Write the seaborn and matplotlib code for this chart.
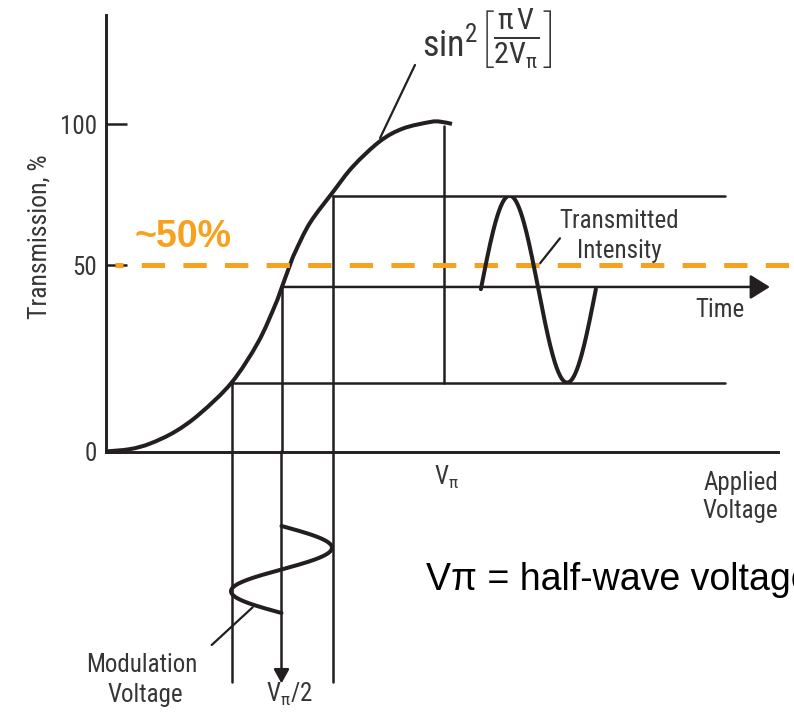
import numpy as np
import matplotlib
matplotlib.use("Agg")
import matplotlib.pyplot as plt
from matplotlib.path import Path
from matplotlib.patches import PathPatch
from matplotlib.transforms import IdentityTransform
import seaborn as sns

# ---------------------------------------------------------------- data
# Modulator transfer curve: applied voltage (in units of V_pi) vs transmission (%)
voltage = [0.0, 0.0723, 0.1313, 0.2051, 0.2789, 0.3725, 0.4501, 0.5003, 0.5198,
           0.5434, 0.5593, 0.6036, 0.6715, 0.7305, 0.8102, 0.8781, 0.9578,
           0.9873, 1.0227]
transmission = [0.0, 0.64, 2.12, 5.32, 10.18, 18.54, 29.29, 39.23, 43.93,
                 49.84, 54.57, 65.06, 76.0, 85.05, 93.98, 98.48, 100.78,
                 100.92, 100.11]

# Drive swing around the V_pi/2 bias point and the transmission it produces
swing_voltage = [0.3725, 0.5195, 0.6706]      # low, bias, high
swing_transmission = [18.5, 44.2, 74.7]       # low, bias, high
v_pi = 1.0
transmission_at_v_pi = 99.2

# Transmission axis
y_ticks = [0, 50, 100]
y_tick_labels = ["0", "50", "100"]
guide_level = 50                               # dashed "~50%" guide

# Output intensity wave: start on the time axis and period (voltage-axis units)
intensity_start = 1.108
intensity_period = 0.3394
# Modulation voltage wave: one period, time runs downward
modulation_cycles = [0.0, 1.0]

# ---------------------------------------------------------------- style
sns.set_theme(style="white")
FAMILY = ["Roboto Condensed", "Liberation Sans", "DejaVu Sans"]
plt.rcParams["font.family"] = FAMILY
plt.rcParams["mathtext.fontset"] = "custom"
plt.rcParams["mathtext.rm"] = "Roboto Condensed"
plt.rcParams["mathtext.it"] = "Roboto Condensed"
plt.rcParams["mathtext.bf"] = "Roboto Condensed:bold"
plt.rcParams["mathtext.sf"] = "Roboto Condensed"
INK = "#231f20"
TXT = "#363636"
ORANGE = "#f7a11f"
THIN = 1.8
THICK = 2.9
LABEL = 18

W, H = 794, 714
fig = plt.figure(figsize=(W / 100, H / 100), dpi=100)
fig.patch.set_facecolor("white")


def fx(x):
    return x / W


def fy(y):
    return 1 - y / H


# main transfer-curve axes
ax = fig.add_axes([fx(105.5), fy(451.5), fx(778 - 105.5), (451.5 - 15) / H])
ax.patch.set_alpha(0)

LO, HI = 3.722, 2.822   # the drawn transmission axis is stretched below 50 %


def fwd(t):
    t = np.asarray(t, float)
    return np.where(t <= 50, t * LO, 50 * LO + (t - 50) * HI)


def inv(u):
    u = np.asarray(u, float)
    return np.where(u <= 50 * LO, u / LO, 50 + (u - 50 * LO) / HI)


ax.set_yscale("function", functions=(fwd, inv))
ax.set_xlim(0, 1.985)
ax.set_ylim(0, 138.7)

for side in ("top", "right"):
    ax.spines[side].set_visible(False)
for side in ("left", "bottom"):
    ax.spines[side].set_linewidth(2.1)
    ax.spines[side].set_color(INK)
ax.set_xticks([])
ax.set_yticks(y_ticks)
ax.set_yticklabels(y_tick_labels)
ax.yaxis.set_minor_locator(matplotlib.ticker.NullLocator())
ax.tick_params(axis="y", direction="in", length=15, width=THIN, color=INK,
               pad=6, labelsize=LABEL, labelcolor=TXT, left=True)
ax.set_ylabel("Transmission, %", fontsize=18.5, color=TXT)
ax.yaxis.set_label_coords(-0.08, 0.4926)

# transfer curve: smooth curve through the points (Catmull-Rom as cubic Beziers)
pts = ax.transData.transform(np.column_stack([voltage, transmission]))
ext = np.vstack([pts[0], pts, pts[-1]])
verts, codes = [pts[0]], [Path.MOVETO]
for i in range(len(pts) - 1):
    p0, p1, p2, p3 = ext[i], ext[i + 1], ext[i + 2], ext[i + 3]
    verts += [p1 + (p2 - p0) / 6, p2 - (p3 - p1) / 6, p2]
    codes += [Path.CURVE4] * 3
ax.add_patch(PathPatch(Path(verts, codes), transform=IdentityTransform(),
                       facecolor="none", edgecolor=INK, lw=THICK,
                       capstyle="butt", clip_on=False, zorder=4))

v_lo, v_bias, v_hi = swing_voltage
t_lo, t_mid, t_hi = swing_transmission
level_end = 1.8285

# projections of the swing onto the transmission levels
for v, t in ((v_lo, t_lo), (v_hi, t_hi)):
    ax.plot([v, v], [0, t], color=INK, lw=THIN, zorder=3)
    ax.plot([v, level_end], [t, t], color=INK, lw=THIN, zorder=3)
ax.plot([v_bias, v_bias], [0, t_mid], color=INK, lw=THIN, zorder=3)
ax.plot([v_pi, v_pi], [t_lo, transmission_at_v_pi], color=INK, lw=THIN, zorder=3)

# time axis starting at the bias point
ax.annotate("", xy=(1.961, t_mid), xytext=(v_bias, t_mid),
            arrowprops=dict(arrowstyle="-|>,head_length=0.4,head_width=0.25",
                            mutation_scale=30, lw=THIN, color=INK,
                            shrinkA=0, shrinkB=0), zorder=3)

# dashed guide at 50 %
ax.axhline(guide_level, xmin=(115 - 105.5) / 672.5, xmax=(794 - 105.5) / 672.5,
           color=ORANGE, lw=3.6, linestyle=(3.06, (4.66, 3.66)),
           dash_capstyle="butt", clip_on=False, zorder=6)

# transmitted intensity wave, spanning the low..high levels
disp_lo = ax.transData.transform((0, t_lo))[1]
disp_hi = ax.transData.transform((0, t_hi))[1]
fig_h = fig.get_size_inches()[1] * fig.dpi
ax_t = fig.add_axes([ax.get_position().x0, disp_lo / fig_h,
                     ax.get_position().width, (disp_hi - disp_lo) / fig_h],
                    sharex=ax)
ax_t.set_ylim(-1, 1)
ax_t.axis("off")
phase = np.linspace(0, 1, 200)
sns.lineplot(x=intensity_start + intensity_period * phase,
             y=np.sin(2 * np.pi * phase), ax=ax_t, sort=False, estimator=None,
             color=INK, lw=THICK)

# modulation voltage panel below the voltage axis (time runs downward)
ax_m = fig.add_axes([ax.get_position().x0, 0, ax.get_position().width,
                     ax.get_position().y0], sharex=ax)
ax_m.set_ylim(2.161, -0.856)
ax_m.axis("off")
amp = (v_hi - v_lo) / 2
tm = np.linspace(modulation_cycles[0], modulation_cycles[1], 200)
sns.lineplot(x=v_bias + amp * np.sin(2 * np.pi * tm), y=tm, ax=ax_m,
             sort=False, estimator=None, color=INK, lw=THICK)
t_end = 1.79
for v in (v_lo, v_hi):
    ax_m.plot([v, v], [-0.856, t_end], color=INK, lw=THIN)
ax_m.annotate("", xy=(v_bias, t_end + 0.02), xytext=(v_bias, -0.856),
              arrowprops=dict(arrowstyle="-|>,head_length=0.4,head_width=0.22",
                              mutation_scale=21, lw=THIN, color=INK,
                              shrinkA=0, shrinkB=0))

# leader lines
leader = dict(arrowstyle="-", lw=1.6, color=INK, shrinkA=0, shrinkB=0)
ax.annotate("", xy=(0.8104, 95.1), xytext=(0.9135, 121.0), arrowprops=leader,
            annotation_clip=False)
ax.annotate("", xy=(1.2825, 50.7), xytext=(1.3415, 59.6), arrowprops=leader,
            annotation_clip=False)
ax_m.annotate("", xy=(0.4345, 0.934), xytext=(0.3135, 1.368), arrowprops=leader,
              annotation_clip=False)

# ---------------------------------------------------------------- text
fig.text(fx(422), fy(56), r"$\mathrm{sin}^2$", fontsize=26, color=TXT,
         ha="left", va="baseline")
fig.text(fx(478), fy(39), r"$\left[\frac{\pi\,\mathrm{V}}{2\mathrm{V}_{\pi}}\right]$",
         fontsize=31, color=TXT, ha="left", va="center")
fig.text(fx(619), fy(228), "Transmitted", fontsize=LABEL, color=TXT, ha="center", va="baseline")
fig.text(fx(619), fy(258), "Intensity", fontsize=LABEL, color=TXT, ha="center", va="baseline")
fig.text(fx(720), fy(317), "Time", fontsize=LABEL, color=TXT, ha="center", va="baseline")
fig.text(fx(778), fy(490), "Applied", fontsize=LABEL, color=TXT, ha="right", va="baseline")
fig.text(fx(778), fy(518), "Voltage", fontsize=LABEL, color=TXT, ha="right", va="baseline")
fig.text(fx(434), fy(485), r"$\mathrm{V}_{\pi}$", fontsize=LABEL, color=TXT, ha="left", va="baseline")
fig.text(fx(142), fy(672), "Modulation", fontsize=LABEL, color=TXT, ha="center", va="baseline")
fig.text(fx(145), fy(702), "Voltage", fontsize=LABEL, color=TXT, ha="center", va="baseline")
fig.text(fx(266), fy(702), r"$\mathrm{V}_{\pi}/2$", fontsize=LABEL, color=TXT, ha="left", va="baseline")
fig.text(fx(135), fy(247), "~50%", fontsize=27, fontweight="bold", color=ORANGE,
         family=["Liberation Sans", "DejaVu Sans"], ha="left", va="baseline")
fig.text(fx(426), fy(590), "V\u03c0 = half-wave voltage", fontsize=27, color="black",
         family=["Liberation Sans", "DejaVu Sans"], ha="left", va="baseline")

fig.savefig("out.png", dpi=100)
